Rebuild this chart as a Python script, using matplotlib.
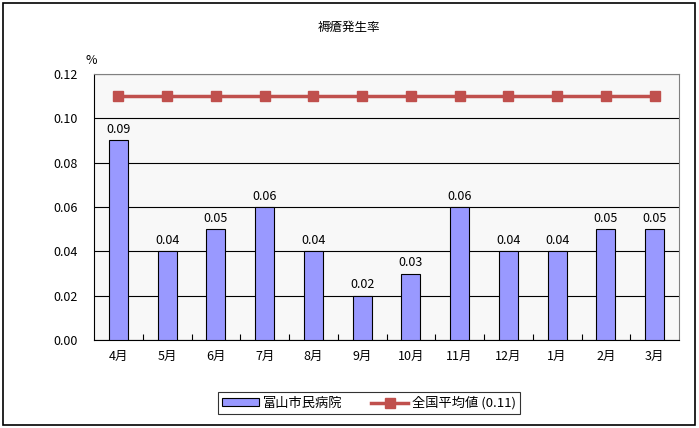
import matplotlib
matplotlib.use('Agg')
import matplotlib.pyplot as plt
from matplotlib.patches import Rectangle

plt.rcParams['font.family'] = ['Noto Sans CJK JP', 'DejaVu Sans']

months = ['4月', '5月', '6月', '7月', '8月', '9月', '10月', '11月', '12月', '1月', '2月', '3月']
hospital = [0.09, 0.04, 0.05, 0.06, 0.04, 0.02, 0.03, 0.06, 0.04, 0.04, 0.05, 0.05]
national = [0.11] * 12

fig = plt.figure(figsize=(6.99, 4.28), dpi=100)
# outer frame
fig.patches.append(Rectangle((3 / 699, 3 / 428), 692 / 699, 422 / 428, transform=fig.transFigure,
                             fill=False, edgecolor='black', linewidth=1.2))

ax = fig.add_axes([94 / 699, (428 - 340) / 428, 585 / 699, 266 / 428])
ax.set_facecolor('#f8f8f8')

x = list(range(len(months)))
bars = ax.bar(x, hospital, width=0.39, color='#9999ff', edgecolor='black', linewidth=0.8,
              label='富山市民病院', zorder=3)
line, = ax.plot(x, national, color='#c0504d', linewidth=2.5, marker='s', markersize=7,
                markerfacecolor='#c0504d', markeredgecolor='#c0504d', label='全国平均値 (0.11)', zorder=4)

for xi, v in zip(x, hospital):
    ax.text(xi, v + 0.002, f'{v:.2f}', ha='center', va='bottom', fontsize=9, zorder=5)

ax.set_xlim(-0.5, len(months) - 0.5)
ax.set_ylim(0, 0.12)
ax.set_yticks([0, 0.02, 0.04, 0.06, 0.08, 0.10, 0.12])
ax.set_yticklabels([f'{t:.2f}' for t in ax.get_yticks()], fontsize=9)
ax.set_xticks(x)
ax.set_xticklabels(months, fontsize=9)
ax.tick_params(axis='x', length=0, pad=7)
ax.tick_params(axis='y', length=0, pad=12)
# inward ticks at category boundaries
ax.set_xticks([i + 0.5 for i in range(len(months) - 1)], minor=True)
ax.tick_params(axis='x', which='minor', direction='in', length=4, width=0.8)

ax.yaxis.grid(True, color='black', linewidth=0.8)
ax.set_axisbelow(True)
for side in ['top', 'right']:
    ax.spines[side].set_color('#808080')
for side in ['left', 'bottom']:
    ax.spines[side].set_color('black')

fig.text(349 / 699, 1 - 27 / 428, '褥瘡発生率', ha='center', va='center', fontsize=9)
fig.text(91 / 699, 1 - 60 / 428, '%', ha='center', va='center', fontsize=9)

leg = fig.legend([bars, line], ['富山市民病院', '全国平均値 (0.11)'], loc='center',
                 bbox_to_anchor=(369 / 699, 1 - 403 / 428), ncol=2, frameon=True,
                 fancybox=False, edgecolor='black', fontsize=9.5, handlelength=2.8,
                 handleheight=0.5, handletextpad=0.3, columnspacing=2.2, borderpad=0.3)
leg.get_frame().set_linewidth(0.8)

fig.savefig('out.png', dpi=100)
